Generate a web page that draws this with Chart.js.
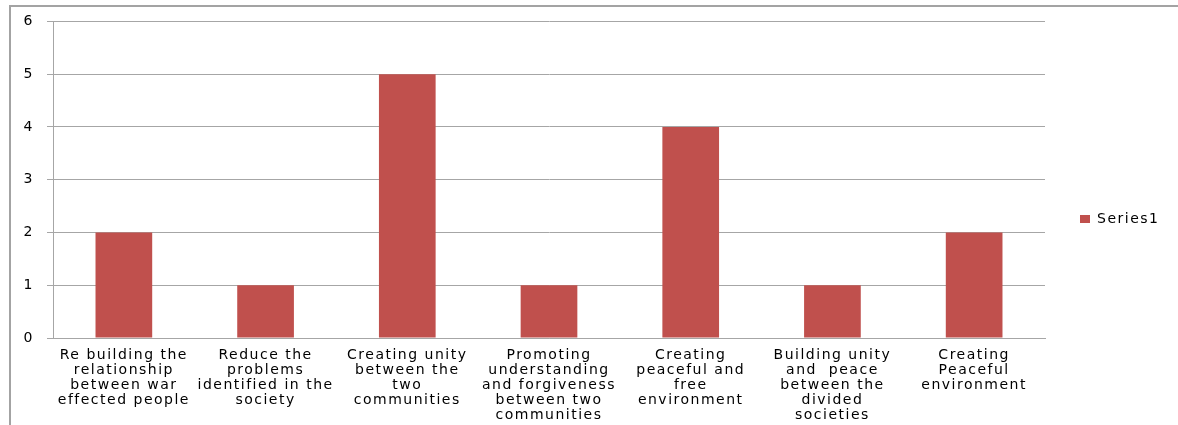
<!DOCTYPE html>
<html>
<head>
<meta charset="utf-8">
<script src="https://cdn.jsdelivr.net/npm/chart.js@4.4.1/dist/chart.umd.min.js"></script>
<style>
  html, body { margin: 0; padding: 0; background: #fff; overflow: hidden; }
  #wrap { position: relative; width: 1178px; height: 425px; overflow: hidden; }
  #frame { position: absolute; left: 9px; top: 5px; width: 1167px; height: 418px;
           border-left: 2px solid #a3a3a3; border-top: 2px solid #a3a3a3; }
  #chart { position: absolute; left: 0; top: 0; }
</style>
</head>
<body>
<div id="wrap">
  <div id="frame"></div>
  <canvas id="chart" width="1178" height="425"></canvas>
</div>
<script>
// dữ liệu biểu đồ
const categories = [
  ["Re building the", "relationship", "between war", "effected people"],
  ["Reduce the", "problems", "identified in the", "society"],
  ["Creating unity", "between the", "two", "communities"],
  ["Promoting", "understanding", "and forgiveness", "between two", "communities"],
  ["Creating", "peaceful and", "free", "environment"],
  ["Building unity", "and  peace", "between the", "divided", "societies"],
  ["Creating", "Peaceful", "environment"]
];
const series1 = [2, 1, 5, 1, 4, 1, 2];
const yTicks = [0, 1, 2, 3, 4, 5, 6];

const gridColor = "#a6a6a6";
const textFont = { family: "DejaVu Sans", size: 14 };

// chữ rộng hơn giống bản gốc
const wideText = {
  id: "wideText",
  beforeUpdate(chart) { chart.ctx.letterSpacing = "1.5px"; },
  beforeDraw(chart) { chart.ctx.letterSpacing = "1.5px"; }
};

// chỉnh vị trí chú thích giống bản gốc
const legendPlace = {
  id: "legendPlace",
  beforeLayout(chart) {
    const lg = chart.legend;
    if (lg && !lg._patched) {
      const orig = lg.fit;
      lg.fit = function () { orig.call(this); this.width = 133; };
      lg._patched = true;
    }
  },
  afterLayout(chart) {
    const lg = chart.legend;
    lg.top = 177;
    lg.bottom = 260;
    if (lg.adjustHitBoxes) lg.adjustHitBoxes();
  }
};

new Chart(document.getElementById("chart").getContext("2d"), {
  type: "bar",
  data: {
    labels: categories,
    datasets: [{
      label: "Series1",
      data: series1,
      backgroundColor: "#c0504d",
      borderWidth: 0,
      barPercentage: 0.4,
      categoryPercentage: 1.0
    }]
  },
  options: {
    responsive: false,
    animation: false,
    devicePixelRatio: 1,
    layout: { padding: { top: 21, right: 0, bottom: 0, left: 0 } },
    plugins: {
      legend: {
        position: "right",
        align: "start",
        labels: {
          boxWidth: 10,
          boxHeight: 8,
          padding: 35,
          color: "#000",
          font: textFont
        }
      },
      tooltip: { enabled: false }
    },
    scales: {
      x: {
        grid: { display: false, drawTicks: false },
        border: { display: true, color: gridColor, width: 1 },
        ticks: { color: "#000", font: { ...textFont, lineHeight: 15 / 14 }, padding: 10, maxRotation: 0, autoSkip: false },
        afterFit(scale) { scale.height = 87; }
      },
      y: {
        min: 0,
        max: 6,
        afterBuildTicks(scale) { scale.ticks = yTicks.map(v => ({ value: v })); },
        grid: { color: gridColor, tickLength: 6 },
        border: { display: true, color: gridColor, width: 1 },
        ticks: { color: "#000", font: textFont, padding: 13 },
        afterFit(scale) { scale.width = 53; }
      }
    }
  },
  plugins: [wideText, legendPlace]
});
</script>
</body>
</html>
